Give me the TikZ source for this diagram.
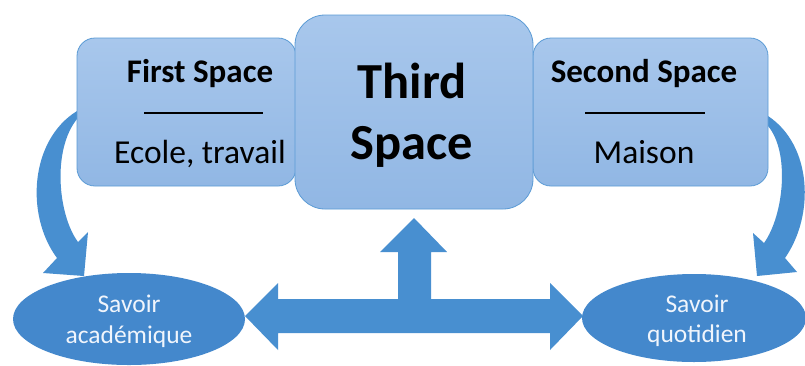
\documentclass[tikz,border=0pt]{standalone}
\usepackage{fontspec}
\setmainfont{Carlito}
\usetikzlibrary{shapes.geometric}
\definecolor{boxtop}{RGB}{168,199,236}
\definecolor{boxbot}{RGB}{145,183,228}
\definecolor{boxline}{RGB}{91,155,213}
\definecolor{ellfill}{RGB}{68,136,204}
\definecolor{arrfill}{RGB}{72,143,208}
\definecolor{ltext}{RGB}{240,245,252}
\begin{document}
\begin{tikzpicture}[x=1pt,y=-1pt,
  spacebox/.style={draw=boxline, line width=0.8pt, top color=boxtop, bottom color=boxbot, inner sep=0pt},
  knowl/.style={ellipse, fill=ellfill, inner sep=0pt},
  blockarrow/.style={fill=arrfill},
  divider/.style={line width=1.5pt, black},
  title/.style={anchor=base, font=\fontsize{33}{40}\selectfont\bfseries, inner sep=0pt},
  sub/.style={anchor=base, font=\fontsize{33.5}{40}\selectfont, inner sep=0pt},
  big/.style={anchor=base, font=\fontsize{50.5}{61}\selectfont\bfseries, inner sep=0pt},
  etext/.style={anchor=base, font=\fontsize{25.5}{31}\selectfont, text=ltext, inner sep=0pt},
]
\useasboundingbox (0,0) rectangle (805,365);
\fill[white] (0,0) rectangle (805,365);

% block arrows
\fill[blockarrow] (77,111) .. controls (30,140) and (25,215) .. (57,258)
  -- (43,273) -- (84,276) -- (88,232) -- (78,242)
  .. controls (58,215) and (52,150) .. (77,119) -- cycle;
\fill[blockarrow] (768,116) .. controls (812,145) and (815,215) .. (785,258)
  -- (797,272) -- (757,276) -- (753,233) -- (764,243)
  .. controls (784,215) and (790,152) .. (768,126) -- cycle;
\fill[blockarrow] (245,316) -- (278,283) -- (278,299) -- (398,299) -- (398,252)
  -- (380,252) -- (414,218) -- (447,252) -- (431,252) -- (431,299)
  -- (550,299) -- (550,283) -- (583,316) -- (550,350) -- (550,333)
  -- (278,333) -- (278,350) -- cycle;

% boxes
\node[spacebox, rounded corners=18pt, minimum width=219pt, minimum height=148pt] (first) at (186.5,112) {};
\node[spacebox, rounded corners=18pt, minimum width=235pt, minimum height=148pt] (second) at (650.5,112) {};
\node[spacebox, rounded corners=30pt, minimum width=238pt, minimum height=194pt] (third) at (414,112) {};

\node[title] (t1) at (200,82) {First Space};
\draw[divider] (144,113) -- (263,113);
\node[sub] (s1) at (200,163) {Ecole, travail};
\node[title] (t2) at (644,82) {Second Space};
\draw[divider] (585,113) -- (705,113);
\node[sub] (s2) at (644,163) {Maison};
\node[big] (t3a) at (412,98) {Third};
\node[big] (t3b) at (412,159) {Space};

% ellipses
\node[knowl, minimum width=232pt, minimum height=92pt] (acad) at (129,319) {};
\node[etext] (e1a) at (129,312) {Savoir};
\node[etext] (e1b) at (129,343) {académique};
\node[knowl, minimum width=224pt, minimum height=88pt] (quot) at (694,318) {};
\node[etext] (e2a) at (697,312) {Savoir};
\node[etext] (e2b) at (697,342) {quotidien};
\end{tikzpicture}
\end{document}
